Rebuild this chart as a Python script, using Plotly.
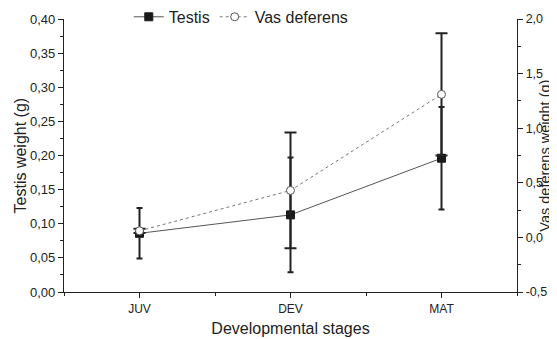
import plotly.graph_objects as go

categories = ["JUV", "DEV", "MAT"]
x_pos = [0, 1, 2]
testis = [0.086, 0.113, 0.196]
testis_err = [0.037, 0.084, 0.075]
vas = [0.06, 0.43, 1.31]
vas_err = [0.02, 0.53, 0.56]

FONT = "Liberation Sans, Arial, sans-serif"
AX = "#222222"

fig = go.Figure()
fig.add_trace(go.Scatter(
    x=x_pos, y=testis, name="Testis", mode="lines+markers",
    line=dict(color="#555555", width=1),
    marker=dict(symbol="square", size=8, color="#1a1a1a", line=dict(color="#1a1a1a", width=1)),
    error_y=dict(type="data", array=testis_err, visible=True, color="#222222", thickness=2, width=3),
    yaxis="y",
))
fig.add_trace(go.Scatter(
    x=x_pos, y=vas, name="Vas deferens", mode="lines+markers",
    line=dict(color="#777777", width=1, dash="dot"),
    marker=dict(symbol="circle", size=8, color="white", line=dict(color="#555555", width=1)),
    error_y=dict(type="data", array=vas_err, visible=True, color="#222222", thickness=2, width=6),
    yaxis="y2",
))

# page has an 8px body margin, so the figure is 8px smaller and shifted
fig.update_layout(
    width=549, height=331,
    margin=dict(l=56, r=40, t=11, b=47, autoexpand=False),
    paper_bgcolor="white", plot_bgcolor="white",
    font=dict(family=FONT, color="#222222"),
    showlegend=True,
    legend=dict(orientation="h", x=0.143, xanchor="left", y=1.07, yanchor="top",
                font=dict(size=16, family=FONT, color="#222222"),
                bgcolor="rgba(0,0,0,0)", itemwidth=30, tracegroupgap=0),
    xaxis=dict(
        range=[-0.5, 2.5], tickmode="array", tickvals=x_pos, ticktext=categories,
        showgrid=False, zeroline=False, showline=True, linecolor=AX, linewidth=1.3,
        ticks="outside", ticklen=5, tickcolor=AX, tickwidth=1.3, automargin=False,
        tickfont=dict(size=12, family=FONT, color="#222222"),
        minor=dict(tickvals=[-0.5, 0.5, 1.5, 2.5], ticks="outside", ticklen=3, tickcolor=AX, tickwidth=1.3),
        title=dict(text="Developmental stages", font=dict(size=16, family=FONT, color="#222222"), standoff=8),
    ),
    yaxis=dict(
        range=[0, 0.40], tickmode="array",
        tickvals=[0, 0.05, 0.10, 0.15, 0.20, 0.25, 0.30, 0.35, 0.40],
        ticktext=["0,00", "0,05", "0,10", "0,15", "0,20", "0,25", "0,30", "0,35", "0,40"],
        showgrid=False, zeroline=False, showline=True, linecolor=AX, linewidth=1.3,
        ticks="outside", ticklen=5, tickcolor=AX, tickwidth=1.3, automargin=False,
        tickfont=dict(size=13, family=FONT, color="#222222"),
        minor=dict(tickvals=[0.025, 0.075, 0.125, 0.175, 0.225, 0.275, 0.325, 0.375],
                   ticks="outside", ticklen=3, tickcolor=AX, tickwidth=1.3),
    ),
    yaxis2=dict(
        range=[-0.5, 2.0], overlaying="y", side="right", tickmode="array",
        tickvals=[-0.5, 0.0, 0.5, 1.0, 1.5, 2.0],
        ticktext=["-0,5", "0,0", "0,5", "1,0", "1,5", "2,0"],
        showgrid=False, zeroline=False, showline=True, linecolor=AX, linewidth=1.3,
        ticks="outside", ticklen=5, tickcolor=AX, tickwidth=1.3, automargin=False,
        tickfont=dict(size=12.5, family=FONT, color="#222222"),
        minor=dict(tickvals=[-0.25, 0.25, 0.75, 1.25, 1.75],
                   ticks="outside", ticklen=3, tickcolor=AX, tickwidth=1.3),
    ),
    annotations=[
        dict(text="Testis weight (g)", xref="paper", yref="paper", x=-0.095, y=0.5,
             xanchor="center", yanchor="middle", textangle=-90, showarrow=False,
             font=dict(size=16, family=FONT, color="#222222")),
        dict(text="Vas deferens weight (g)", xref="paper", yref="paper", x=1.060, y=0.5,
             xanchor="center", yanchor="middle", textangle=-90, showarrow=False,
             font=dict(size=14.5, family=FONT, color="#222222")),
    ],
)

fig.write_html("out.html")
